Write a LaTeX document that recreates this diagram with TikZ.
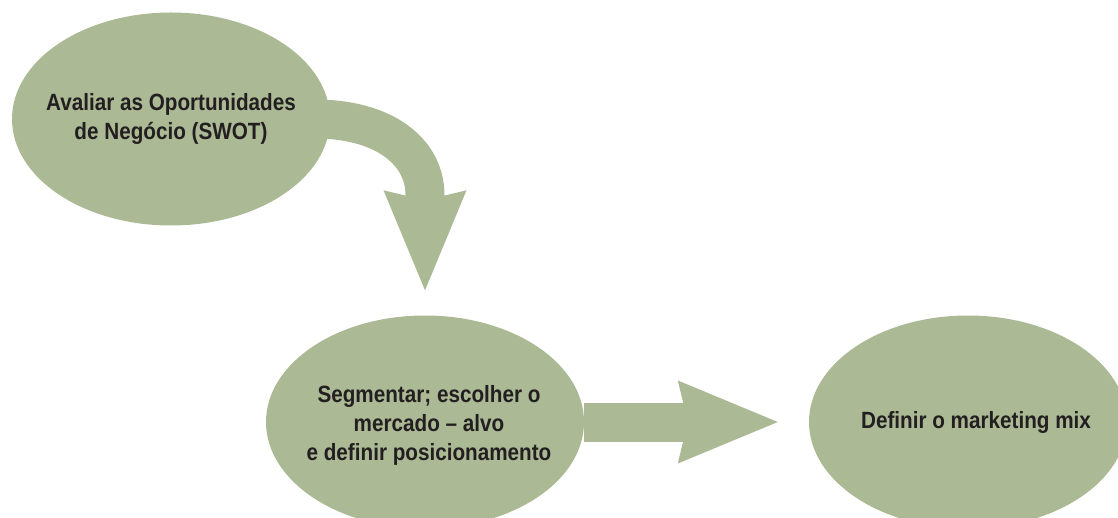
\documentclass[tikz,border=0pt]{standalone}
\usepackage{fontspec}
\setmainfont{Liberation Sans}[FakeStretch=0.88]
\usetikzlibrary{shapes.geometric,arrows.meta,calc}
\definecolor{sage}{RGB}{171,185,149}
\definecolor{ink}{RGB}{35,31,32}

\begin{document}
\begin{tikzpicture}[x=1pt, y=-1pt,
    blob/.style={ellipse, fill=sage, inner sep=0pt, minimum width=318pt, minimum height=213pt},
    lbl/.style={text=ink, align=center, font=\fontsize{23.5}{29}\selectfont\bfseries},
    flow/.style={draw=sage, line width=39pt, -{Stealth[length=100pt, width=83pt, inset=10pt, line width=0pt]}}]
        \useasboundingbox (0,0) rectangle (1118,518);
        \node[blob] (swot) at (171,119) {};
        \node[blob] (seg) at (425,422) {};
        \node[blob] (mix) at (968,422) {};
        \draw[flow, shorten >=25pt] ($(swot.east)+(-15,0)$) .. controls +(67,0) and +(0,-45) .. ($(seg.north)+(0,-120)$) -- (seg.north);
        \draw[flow, shorten >=31pt] (seg) -- (mix);
        \node[lbl] (swottxt) at (swot) {Avaliar as Oportunidades\\de Negócio (SWOT)};
        \node[lbl] (segtxt) at ($(seg)+(4,3)$) {Segmentar; escolher o\\mercado – alvo\\e definir posicionamento};
        \node[lbl] (mixtxt) at ($(mix)+(8,0)$) {Definir o marketing mix};
\end{tikzpicture}
\end{document}
